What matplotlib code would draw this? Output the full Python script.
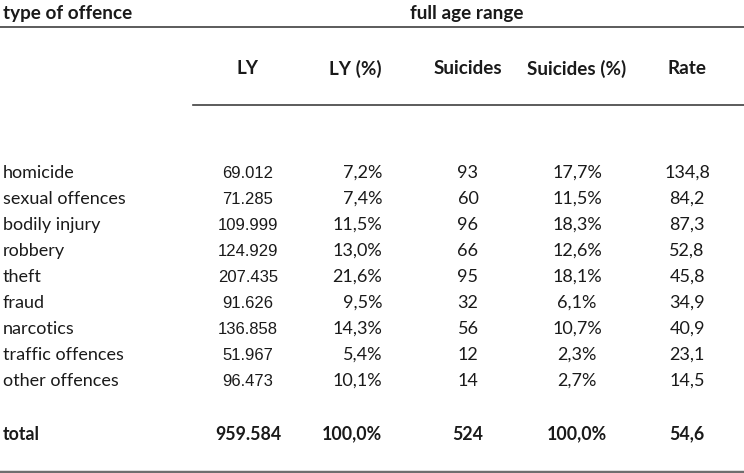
import matplotlib.pyplot as plt

# ===============================
# Data
# ===============================
offences = ["homicide", "sexual offences", "bodily injury", "robbery", "theft",
            "fraud", "narcotics", "traffic offences", "other offences"]
ly = ["69.012", "71.285", "109.999", "124.929", "207.435",
      "91.626", "136.858", "51.967", "96.473"]
ly_pct = ["7,2%", "7,4%", "11,5%", "13,0%", "21,6%", "9,5%", "14,3%", "5,4%", "10,1%"]
suicides = ["93", "60", "96", "66", "95", "32", "56", "12", "14"]
suicides_pct = ["17,7%", "11,5%", "18,3%", "12,6%", "18,1%", "6,1%", "10,7%", "2,3%", "2,7%"]
rate = ["134,8", "84,2", "87,3", "52,8", "45,8", "34,9", "40,9", "23,1", "14,5"]
total = ["total", "959.584", "100,0%", "524", "100,0%", "54,6"]

col_headers = ["LY", "LY (%)", "Suicides", "Suicides (%)", "Rate"]

# ===============================
# Layout (pixel-like coordinates)
# ===============================
W, H = 744, 473
FONT = ["Lato", "DejaVu Sans"]
NUMFONT = ["Liberation Sans", "DejaVu Sans"]
TXT = "#1a1a1a"
FS = 13        # body text
FS_HEAD = 13.6  # bold headers
FS_TOT = 12.8   # bold total row

col_x = [248, 355, 468, 577, 687]
row_y0, row_dy = 173, 26
total_y = 434

fig = plt.figure(figsize=(W / 100, H / 100), dpi=100)
ax = fig.add_axes([0, 0, 1, 1])
ax.set_xlim(0, W)
ax.set_ylim(H, 0)
ax.axis("off")

# header
ax.text(3, 14, "type of offence", fontsize=FS_HEAD, fontweight="bold",
        family=FONT, color=TXT, va="center", ha="left")
ax.text(467, 14, "full age range", fontsize=FS_HEAD, fontweight="bold",
        family=FONT, color=TXT, va="center", ha="center")
ax.plot([0, W], [27, 27], color="#404040", lw=1.2)

for x, h in zip(col_x, col_headers):
    ax.text(x, 69, h, fontsize=FS_HEAD, fontweight="bold", family=FONT,
            color=TXT, va="center", ha="center")
ax.plot([193, W], [105, 105], color="#404040", lw=1.2)

# body rows
for i, name in enumerate(offences):
    y = row_y0 + i * row_dy
    ax.text(3, y, name, fontsize=FS, family=FONT, color=TXT, va="center", ha="left")
    ax.text(col_x[0], y, ly[i], fontsize=12, family=NUMFONT, color=TXT,
            va="center", ha="center")
    ax.text(382, y, ly_pct[i], fontsize=FS, family=FONT, color=TXT,
            va="center", ha="right")
    ax.text(col_x[2], y, suicides[i], fontsize=FS, family=FONT, color=TXT,
            va="center", ha="center")
    ax.text(col_x[3], y, suicides_pct[i], fontsize=FS, family=FONT, color=TXT,
            va="center", ha="center")
    ax.text(col_x[4], y, rate[i], fontsize=FS, family=FONT, color=TXT,
            va="center", ha="center")

# total row
ax.text(3, total_y, total[0], fontsize=FS_TOT, fontweight="bold", family=FONT,
        color=TXT, va="center", ha="left")
ax.text(col_x[0], total_y, total[1], fontsize=FS_TOT, fontweight="bold", family=FONT,
        color=TXT, va="center", ha="center")
ax.text(382, total_y, total[2], fontsize=FS_TOT, fontweight="bold", family=FONT,
        color=TXT, va="center", ha="right")
for x, v in zip(col_x[2:], total[3:]):
    ax.text(x, total_y, v, fontsize=FS_TOT, fontweight="bold", family=FONT,
            color=TXT, va="center", ha="center")

ax.plot([0, W], [471.5, 471.5], color="#6e6e6e", lw=2.5)

fig.savefig("out.png", dpi=100)
